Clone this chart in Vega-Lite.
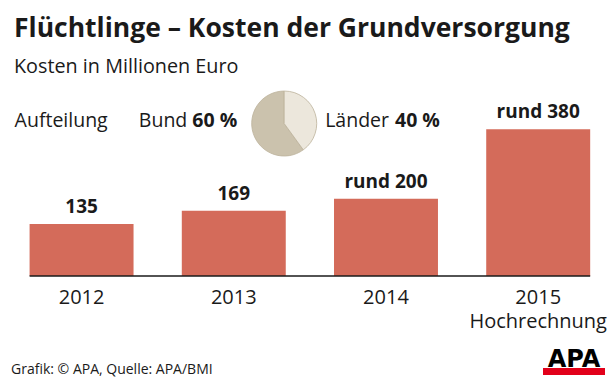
{
  "$schema": "https://vega.github.io/schema/vega-lite/v6.json",
  "padding": {"top": 15, "left": 0, "right": 0, "bottom": 0},
  "background": "white",
  "title": {
    "text": "Flüchtlinge – Kosten der Grundversorgung",
    "subtitle": "Kosten in Millionen Euro",
    "anchor": "start",
    "dx": 14,
    "offset": 6.5,
    "font": "Open Sans",
    "fontSize": 26.5,
    "fontWeight": "bold",
    "color": "#1a1a1a",
    "subtitleFont": "Open Sans",
    "subtitleFontSize": 19.8,
    "subtitleColor": "#1a1a1a",
    "subtitlePadding": 14.5
  },
  "config": {
    "view": {"stroke": null},
    "font": "Open Sans",
    "text": {"font": "Open Sans"}
  },
  "datasets": {
    "costs": [
      {"year": "2012", "value": 135, "label": "135"},
      {"year": "2013", "value": 169, "label": "169"},
      {"year": "2014", "value": 200, "label": "rund 200"},
      {"year": "2015", "value": 380, "label": "rund 380"}
    ],
    "split": [
      {"part": "Bund", "share": 60},
      {"part": "Länder", "share": 40}
    ]
  },
  "spacing": 16,
  "vconcat": [
    {
      "width": 616,
      "height": 193,
      "layer": [
        {
          "data": {"name": "costs"},
          "mark": {"type": "bar", "color": "#d46b5a"},
          "encoding": {
            "x": {
              "field": "year",
              "type": "nominal",
              "scale": {"paddingInner": 0.317, "paddingOuter": 0.182, "align": 0.534},
              "axis": {
                "title": null,
                "domain": false,
                "ticks": false,
                "tickSize": 0,
                "grid": false,
                "labelPadding": 27,
                "labelBaseline": "alphabetic",
                "labelFont": "Open Sans",
                "labelFontSize": 20,
                "labelColor": "#1a1a1a",
                "labelAngle": 0,
                "labelLineHeight": 24.5,
                "labelOverlap": false,
                "labelBound": false,
                "labelFlush": false,
                "labelExpr": "datum.value == '2015' ? ['2015', 'Hochrechnung'] : datum.label"
              }
            },
            "y": {
              "field": "value",
              "type": "quantitative",
              "scale": {"domain": [0, 500]},
              "axis": null
            }
          }
        },
        {
          "data": {"name": "costs"},
          "mark": {"type": "text", "fontSize": 19, "fontWeight": "bold", "color": "#1a1a1a", "baseline": "alphabetic", "dy": -11},
          "encoding": {
            "x": {"field": "year", "type": "nominal"},
            "y": {"field": "value", "type": "quantitative"},
            "text": {"field": "label"}
          }
        },
        {
          "data": {"values": [{"t": "baseline"}]},
          "mark": {"type": "rule", "color": "#1a1a1a", "strokeWidth": 1.5},
          "encoding": {
            "x": {"datum": "2012", "type": "nominal", "bandPosition": 0},
            "x2": {"datum": "2015", "bandPosition": 1},
            "y": {"datum": 0, "type": "quantitative"}
          }
        },
        {
          "data": {"values": [{"t": "Aufteilung"}]},
          "mark": {"type": "text", "align": "left", "baseline": "alphabetic", "fontSize": 19.5, "color": "#1a1a1a", "dx": -15},
          "encoding": {
            "text": {"field": "t"},
            "x": {"datum": "2012", "type": "nominal", "bandPosition": 0},
            "y": {"datum": 386, "type": "quantitative"}
          }
        },
        {
          "data": {"values": [{"t": "Bund"}]},
          "mark": {"type": "text", "align": "right", "baseline": "alphabetic", "fontSize": 19.5, "color": "#1a1a1a", "dx": 5.5},
          "encoding": {
            "text": {"field": "t"},
            "x": {"datum": "2013", "type": "nominal", "bandPosition": 0},
            "y": {"datum": 386, "type": "quantitative"}
          }
        },
        {
          "data": {"values": [{"t": "60 %"}]},
          "mark": {"type": "text", "align": "left", "baseline": "alphabetic", "fontSize": 19.5, "fontWeight": "bold", "color": "#1a1a1a", "dx": 10.5},
          "encoding": {
            "text": {"field": "t"},
            "x": {"datum": "2013", "type": "nominal", "bandPosition": 0},
            "y": {"datum": 386, "type": "quantitative"}
          }
        },
        {
          "data": {"name": "split"},
          "mark": {"type": "arc", "outerRadius": 32.5, "stroke": "#bdb39c", "strokeWidth": 0.8},
          "encoding": {
            "theta": {"field": "share", "type": "quantitative", "stack": true},
            "order": {"field": "part", "sort": "descending"},
            "color": {
              "field": "part",
              "type": "nominal",
              "scale": {"domain": ["Bund", "Länder"], "range": ["#cbc2ad", "#ece7dc"]},
              "legend": null
            },
            "x": {"datum": "2013", "type": "nominal", "bandPosition": 0.985},
            "y": {"datum": 395, "type": "quantitative"}
          }
        },
        {
          "data": {"values": [{"t": "Länder"}]},
          "mark": {"type": "text", "align": "right", "baseline": "alphabetic", "fontSize": 19.5, "color": "#1a1a1a", "dx": 3},
          "encoding": {
            "text": {"field": "t"},
            "x": {"datum": "2014", "type": "nominal", "bandPosition": 0.5},
            "y": {"datum": 386, "type": "quantitative"}
          }
        },
        {
          "data": {"values": [{"t": "40 %"}]},
          "mark": {"type": "text", "align": "left", "baseline": "alphabetic", "fontSize": 19.5, "fontWeight": "bold", "color": "#1a1a1a", "dx": 9},
          "encoding": {
            "text": {"field": "t"},
            "x": {"datum": "2014", "type": "nominal", "bandPosition": 0.5},
            "y": {"datum": 386, "type": "quantitative"}
          }
        }
      ]
    },
    {
      "spacing": 521,
      "bounds": "flush",
      "hconcat": [
        {
          "width": 22,
          "height": 27,
          "data": {"values": [{"t": "Grafik: © APA, Quelle: APA/BMI"}]},
          "mark": {"type": "text", "align": "left", "baseline": "alphabetic", "dy": 12.5, "fontSize": 14, "color": "#1a1a1a"},
          "encoding": {"text": {"field": "t"}}
        },
        {
          "spacing": 1,
          "bounds": "flush",
          "vconcat": [
            {
              "width": 62,
              "height": 19,
              "data": {"values": [{"t": "APA"}]},
              "mark": {"type": "text", "font": "DejaVu Sans", "fontWeight": "bold", "fontSize": 24, "align": "center", "baseline": "alphabetic", "dy": 9.5, "color": "#000000"},
              "encoding": {"text": {"field": "t"}}
            },
            {
              "width": 62,
              "height": 7,
              "data": {"values": [{"t": "bar"}]},
              "mark": {"type": "rect", "color": "#e2001a"},
              "encoding": {}
            }
          ]
        }
      ]
    }
  ]
}
